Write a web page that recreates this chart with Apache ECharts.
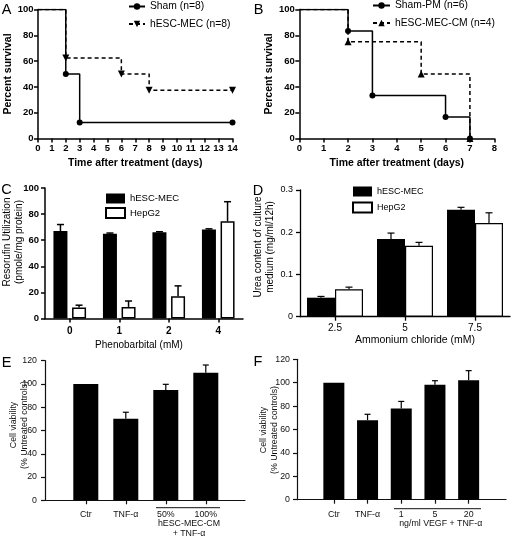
<!DOCTYPE html>
<html><head><meta charset="utf-8">
<script src="https://cdn.jsdelivr.net/npm/echarts@6/dist/echarts.min.js"></script>
<style>html,body{margin:0;padding:0;background:#fff}#c{width:515px;height:542px}</style>
</head><body><div id="c"></div>
<script>
// ---- Panel A (Kaplan-Meier) ----
const xTicksA = 14;
const shamA = [[0,100],[2,50],[3,12.5],[14,12.5]];
const hescA = [[0,100],[2,62.5],[6,50],[8,37.5],[14,37.5]];
// ---- Panel B ----
const xTicksB = 8;
const shamB = [[0,100],[2,83.3],[3,33.3],[6,16.7],[7,0]];
const hescB = [[0,100],[2,75],[5,50],[7,0]];
// ---- Panel C ----
const catC = ['0','1','2','4'];
const hescC = [67, 65, 66, 68.2];
const hescCErr = [5, 0.5, 0.5, 0.5];
const hepC = [8.4, 8.9, 17, 74.5];
const hepCErr = [1.8, 4.5, 8, 15];
// ---- Panel D ----
const catD = ['2.5','5','7.5'];
const hescD = [0.045, 0.184, 0.253];
const hescDErr = [0.003, 0.014, 0.006];
const hepD = [0.065, 0.168, 0.222];
const hepDErr = [0.005, 0.008, 0.024];
// ---- Panel E ----
const catE = ['Ctr','TNF-α','50%','100%'];
const valE = [100, 70, 94.8, 109.7];
const errE = [0, 5.7, 4.9, 6.6];
// ---- Panel F ----
const catF = ['Ctr','TNF-α','1','5','20'];
const valF = [100, 68, 78, 98.3, 102];
const errF = [0, 5, 6, 3.4, 8.3];

const FONT = 'Liberation Sans, Arial, Helvetica, sans-serif';
const chart = echarts.init(document.getElementById('c'), null, {renderer:'canvas'});

function kmData(arr){ return arr.map((p,i)=> i===0 ? {value:p, symbol:'none'} : {value:p}); }

function axLine(w, c){ return {show:true, onZero:false, lineStyle:{color:c||'#000', width:w||1.5}}; }
function axTick(w, c, extra){ return Object.assign({show:true, length:4, inside:false, lineStyle:{color:c||'#000', width:w||1.5}}, extra||{}); }

function errSeries(xi, yi, vals, errs, off, cap, lw){
  return {
    type:'custom', xAxisIndex:xi, yAxisIndex:yi, silent:true, z:5,
    data: vals.map((v,i)=>[i, v, errs[i]]),
    renderItem: function(params, api){
      const i = api.value(0), v = api.value(1), e = api.value(2);
      if (!e) return null;
      const b = api.coord([i, v]);
      const t = api.coord([i, v + e]);
      const x = b[0] + off;
      return {type:'group', children:[
        {type:'line', shape:{x1:x, y1:b[1], x2:x, y2:t[1]}, style:{stroke:'#000', lineWidth:lw}},
        {type:'line', shape:{x1:x-cap, y1:t[1], x2:x+cap, y2:t[1]}, style:{stroke:'#000', lineWidth:lw}}
      ]};
    }
  };
}

const boldTick = {color:'#000', fontWeight:'bold', fontSize:9.5, fontFamily:FONT};
const nameBold = {color:'#000', fontWeight:'bold', fontSize:10.5, fontFamily:FONT};

const grids = [
  {left:38, top:9.5, width:194.5, height:129},      // 0 A
  {left:299.3, top:9.5, width:195, height:129},     // 1 B
  {left:45, top:188, width:198, height:130.5},      // 2 C
  {left:300, top:190, width:210, height:126.7},     // 3 D
  {left:45, top:360.7, width:200, height:139.6},    // 4 E frame
  {left:65.8, top:360.7, width:160, height:139.6},  // 5 E bars
  {left:297, top:359.3, width:209, height:140.4},   // 6 F frame
  {left:317, top:359.3, width:168.5, height:140.4}  // 7 F bars
].map(g => Object.assign({containLabel:false, outerBoundsMode:'none'}, g));

const xAxes = [
  {gridIndex:0, type:'value', min:0, max:xTicksA, interval:1, axisLine:axLine(), axisTick:axTick(), splitLine:{show:false},
   axisLabel:Object.assign({margin:5}, boldTick),
   name:'Time after treatment (days)', nameLocation:'middle', nameGap:19.5, nameTextStyle:nameBold},
  {gridIndex:1, type:'value', min:0, max:xTicksB, interval:1, axisLine:axLine(), axisTick:axTick(), splitLine:{show:false},
   axisLabel:Object.assign({margin:5}, boldTick),
   name:'Time after treatment (days)', nameLocation:'middle', nameGap:19.5, nameTextStyle:nameBold},
  {gridIndex:2, type:'category', data:catC, axisLine:axLine(), axisTick:axTick(1.5,'#000',{alignWithLabel:true}),
   axisLabel:Object.assign({margin:7.5, interval:0}, boldTick, {fontSize:10})},
  {gridIndex:3, type:'category', data:catD, axisLine:axLine(1.3), axisTick:axTick(1.3,'#000',{alignWithLabel:true}),
   axisLabel:{margin:7, interval:0, color:'#000', fontSize:10, fontFamily:FONT}},
  {gridIndex:4, type:'value', min:0, max:1, axisLine:axLine(1.2,'#111'), axisTick:{show:false}, axisLabel:{show:false}, splitLine:{show:false}},
  {gridIndex:5, type:'category', data:catE, axisLine:{show:false}, axisTick:axTick(1.2,'#111',{alignWithLabel:true}),
   axisLabel:{margin:10, interval:0, color:'#111', fontSize:8.8, fontFamily:FONT}},
  {gridIndex:6, type:'value', min:0, max:1, axisLine:axLine(1.2,'#111'), axisTick:{show:false}, axisLabel:{show:false}, splitLine:{show:false}},
  {gridIndex:7, type:'category', data:catF, axisLine:{show:false}, axisTick:axTick(1.2,'#111',{alignWithLabel:true}),
   axisLabel:{margin:10, interval:0, color:'#111', fontSize:8.8, fontFamily:FONT}}
];

const yAxes = [
  {gridIndex:0, type:'value', min:0, max:100, interval:20, axisLine:axLine(), axisTick:axTick(), splitLine:{show:false},
   axisLabel:Object.assign({margin:4.5}, boldTick),
   name:'Percent survival', nameLocation:'middle', nameGap:23, nameRotate:90, nameTextStyle:nameBold},
  {gridIndex:1, type:'value', min:0, max:100, interval:20, axisLine:axLine(), axisTick:axTick(), splitLine:{show:false},
   axisLabel:Object.assign({margin:4.5}, boldTick),
   name:'Percent survival', nameLocation:'middle', nameGap:25, nameRotate:90, nameTextStyle:nameBold},
  {gridIndex:2, type:'value', min:0, max:100, interval:20, axisLine:axLine(), axisTick:axTick(), splitLine:{show:false},
   axisLabel:Object.assign({margin:6}, boldTick, {fontSize:9.5})},
  {gridIndex:3, type:'value', min:0, max:0.3, interval:0.1, axisLine:axLine(1.3), axisTick:axTick(1.3), splitLine:{show:false},
   axisLabel:{margin:7, color:'#000', fontSize:9, fontFamily:FONT}},
  {gridIndex:4, type:'value', min:0, max:120, interval:20, axisLine:axLine(1.2,'#111'), axisTick:axTick(1.2,'#111'), splitLine:{show:false},
   axisLabel:{margin:8, color:'#111', fontSize:8.8, fontFamily:FONT}},
  {gridIndex:5, type:'value', min:0, max:120, show:false},
  {gridIndex:6, type:'value', min:0, max:120, interval:20, axisLine:axLine(1.2,'#111'), axisTick:axTick(1.2,'#111'), splitLine:{show:false},
   axisLabel:{margin:7, color:'#111', fontSize:8.8, fontFamily:FONT}},
  {gridIndex:7, type:'value', min:0, max:120, show:false}
];

const series = [
  {name:'hESC-MEC (n=8)', type:'line', step:'end', xAxisIndex:0, yAxisIndex:0, data:kmData(hescA), z:2,
   symbol:'triangle', symbolRotate:180, symbolSize:7, color:'#000',
   lineStyle:{color:'#000', width:1.5, type:[4,3]}, itemStyle:{color:'#000'}},
  {name:'Sham (n=8)', type:'line', step:'end', xAxisIndex:0, yAxisIndex:0, data:kmData(shamA), z:3,
   symbol:'circle', symbolSize:6, color:'#000',
   lineStyle:{color:'#000', width:1.5}, itemStyle:{color:'#000'}},
  {name:'hESC-MEC-CM (n=4)', type:'line', step:'end', xAxisIndex:1, yAxisIndex:1, data:kmData(hescB), z:2,
   symbol:'triangle', symbolSize:7, color:'#000',
   lineStyle:{color:'#000', width:1.5, type:[4,3]}, itemStyle:{color:'#000'}},
  {name:'Sham-PM (n=6)', type:'line', step:'end', xAxisIndex:1, yAxisIndex:1, data:kmData(shamB), z:3,
   symbol:'circle', symbolSize:6, color:'#000',
   lineStyle:{color:'#000', width:1.5}, itemStyle:{color:'#000'}},

  {name:'hESC-MEC', type:'bar', xAxisIndex:2, yAxisIndex:2, data:hescC, barWidth:14, barGap:'33%',
   itemStyle:{color:'#000'}},
  {name:'HepG2', type:'bar', xAxisIndex:2, yAxisIndex:2, data:hepC, barWidth:14, barGap:'33%',
   itemStyle:{color:'#fff', borderColor:'#000', borderWidth:1.5}},
  errSeries(2, 2, hescC, hescCErr, -9.3, 3.5, 1.5),
  errSeries(2, 2, hepC, hepCErr, 9.3, 3.5, 1.5),

  {name:'hESC-MEC', type:'bar', xAxisIndex:3, yAxisIndex:3, data:hescD, barWidth:28, barGap:'0%',
   itemStyle:{color:'#000'}},
  {name:'HepG2', type:'bar', xAxisIndex:3, yAxisIndex:3, data:hepD, barWidth:28, barGap:'0%',
   itemStyle:{color:'#fff', borderColor:'#000', borderWidth:1.2}},
  errSeries(3, 3, hescD, hescDErr, -14, 3.5, 1.2),
  errSeries(3, 3, hepD, hepDErr, 14, 3.5, 1.2),

  {name:'E', type:'bar', xAxisIndex:5, yAxisIndex:5, data:valE, barWidth:25, itemStyle:{color:'#000'}},
  errSeries(5, 5, valE, errE, 0, 3, 1.2),
  {name:'F', type:'bar', xAxisIndex:7, yAxisIndex:7, data:valF, barWidth:21, itemStyle:{color:'#000'}},
  errSeries(7, 7, valF, errF, 0, 3, 1.2)
];

const legTxt = {color:'#000', fontSize:10.3, fontFamily:FONT};
const legends = [
  {data:['Sham (n=8)','hESC-MEC (n=8)'], left:128, top:1.5, orient:'vertical', padding:0, itemWidth:16, itemHeight:8, itemGap:7.5, textStyle:legTxt, selectedMode:false},
  {data:['Sham-PM (n=6)','hESC-MEC-CM (n=4)'], left:372, top:0.5, orient:'vertical', padding:0, itemWidth:17, itemHeight:8, itemGap:7.5, textStyle:legTxt, selectedMode:false},
  {data:['hESC-MEC','HepG2'], left:105, top:193.5, orient:'vertical', padding:0, icon:'rect', itemWidth:19, itemHeight:10, itemGap:3.5, textStyle:Object.assign({}, legTxt, {fontSize:9.5}), selectedMode:false},
  {data:['hESC-MEC','HepG2'], left:352, top:186.5, orient:'vertical', padding:0, icon:'rect', itemWidth:19, itemHeight:10, itemGap:5, textStyle:Object.assign({}, legTxt, {fontSize:9}), selectedMode:false}
];

function txt(t, x, y, size, opts){
  return Object.assign({type:'text', x:x, y:y, silent:true,
    style:Object.assign({text:t, fill:'#000', font:(opts&&opts.weight||'normal')+' '+size+'px '+FONT, align:'center', verticalAlign:'middle', lineHeight:size*1.2}, opts&&opts.style||{})},
    opts&&opts.rot ? {rotation:Math.PI/2} : {});
}
function hline(x1, x2, y){
  return {type:'line', silent:true, shape:{x1:x1, y1:y, x2:x2, y2:y}, style:{stroke:'#111', lineWidth:1}};
}

const graphic = [
  txt('A', 6.5, 10, 14.5), txt('B', 258.5, 9.5, 14.5), txt('C', 6.5, 190, 14.5),
  txt('D', 258, 190.5, 14.5), txt('E', 6.5, 362.5, 14.5), txt('F', 258, 361.5, 14.5),
  txt('Resorufin Utilization\n(pmole/mg protein)', 13, 242, 10, {rot:true}),
  txt('Phenobarbital (mM)', 139, 345, 10),
  txt('Urea content of culture\nmedium (mg/ml/12h)', 264, 247, 10, {rot:true}),
  txt('Ammonium chloride (mM)', 415, 340.5, 10.5),
  txt('Cell viability\n(% Untreated controls)', 19, 425, 8.8, {rot:true, style:{fill:'#111'}}),
  txt('Cell viability\n(% Untreated controls)', 269, 430, 8.8, {rot:true, style:{fill:'#111'}}),
  hline(156, 220, 507.7),
  txt('hESC-MEC-CM', 189, 523.7, 8.8, {style:{fill:'#111'}}),
  txt('+ TNF-α', 189, 534, 8.8, {style:{fill:'#111'}}),
  hline(394, 481, 508.7),
  txt('ng/ml VEGF + TNF-α', 440.7, 523.3, 8.8, {style:{fill:'#111'}})
];

chart.setOption({
  animation:false,
  backgroundColor:'#fff',
  textStyle:{fontFamily:FONT},
  grid:grids, xAxis:xAxes, yAxis:yAxes, series:series, legend:legends, graphic:graphic
});
</script>
</body></html>
